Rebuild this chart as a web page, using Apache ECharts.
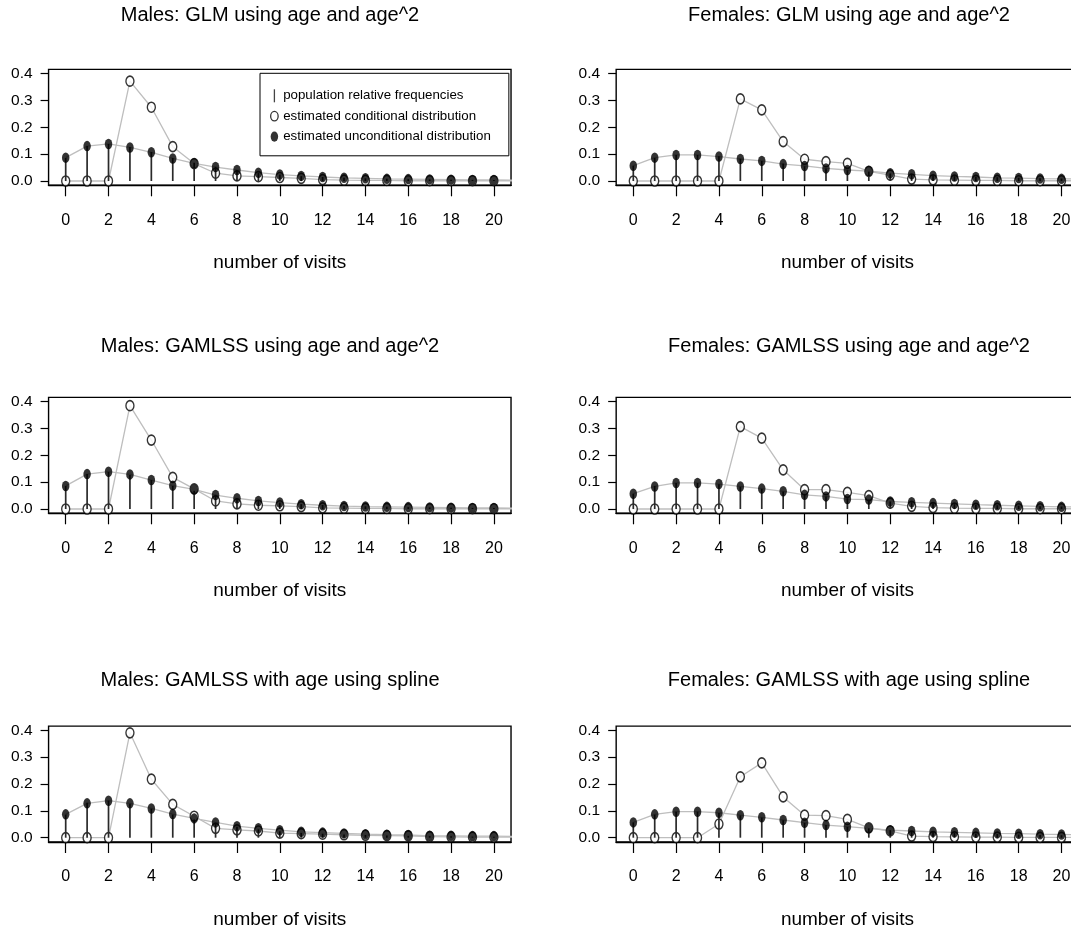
<!DOCTYPE html>
<html>
<head>
<meta charset="utf-8">
<script src="https://cdn.jsdelivr.net/npm/echarts@6/dist/echarts.min.js"></script>
<style>
html,body{margin:0;padding:0;background:#fff;overflow:hidden}
#chart{width:1071px;height:938px}
</style>
</head>
<body>
<div id="chart"></div>
<script>
// ---------- data ----------
const visits = [0,1,2,3,4,5,6,7,8,9,10,11,12,13,14,15,16,17,18,19,20,21];
const xTickValues = [0,2,4,6,8,10,12,14,16,18,20];
const yTickValues = [0,0.1,0.2,0.3,0.4];
const panelTitles = [
  'Males: GLM using age and age^2',
  'Females: GLM using age and age^2',
  'Males: GAMLSS using age and age^2',
  'Females: GAMLSS using age and age^2',
  'Males: GAMLSS with age using spline',
  'Females: GAMLSS with age using spline'
];
const xAxisTitle = 'number of visits';
const legendNames = [
  'population relative frequencies',
  'estimated conditional distribution',
  'estimated unconditional distribution'
];

// population frequencies: visits 0..20
const malePop   = [0.086,0.130,0.138,0.127,0.108,0.086,0.068,0.053,0.041,0.031,0.024,0.018,0.015,0.012,0.010,0.008,0.007,0.006,0.005,0.004,0.004];
const femalePop = [0.057,0.086,0.097,0.097,0.092,0.083,0.075,0.065,0.055,0.047,0.040,0.035,0.028,0.025,0.021,0.018,0.016,0.014,0.012,0.010,0.009];

// estimated distributions: visits 0..21 (21 lies just past the plot edge)
const maleGlmCond     = [0,0,0,0.372,0.275,0.128,0.065,0.029,0.019,0.016,0.013,0.010,0.005,0.003,0.002,0.002,0.001,0.001,0.001,0.001,0.001,0.001];
const maleGlmUncond   = [0.087,0.130,0.138,0.125,0.107,0.084,0.066,0.052,0.041,0.031,0.024,0.019,0.015,0.012,0.010,0.008,0.007,0.006,0.005,0.004,0.004,0.003];
const femaleGlmCond   = [0,0,0,0,0,0.306,0.265,0.147,0.081,0.072,0.066,0.036,0.022,0.007,0.004,0.003,0.002,0.002,0.001,0.001,0.001,0.001];
const femaleGlmUncond = [0.057,0.087,0.097,0.097,0.091,0.082,0.075,0.063,0.056,0.047,0.041,0.037,0.029,0.025,0.020,0.017,0.015,0.012,0.011,0.009,0.008,0.007];

const maleGamCond     = [0,0,0,0.385,0.257,0.118,0.075,0.030,0.019,0.014,0.012,0.009,0.004,0.003,0.002,0.002,0.001,0.001,0.001,0.001,0.001,0.001];
const maleGamUncond   = [0.086,0.130,0.139,0.129,0.108,0.087,0.073,0.052,0.040,0.030,0.024,0.018,0.014,0.011,0.009,0.008,0.007,0.006,0.005,0.004,0.004,0.003];
const femaleGamCond   = [0,0,0,0,0,0.307,0.264,0.146,0.072,0.072,0.062,0.050,0.022,0.010,0.005,0.003,0.002,0.002,0.001,0.001,0.001,0.001];
const femaleGamUncond = [0.057,0.084,0.097,0.097,0.093,0.084,0.076,0.066,0.053,0.047,0.037,0.035,0.028,0.025,0.022,0.019,0.016,0.014,0.012,0.010,0.008,0.007];

const maleSplCond     = [0,0,0,0.391,0.218,0.124,0.080,0.035,0.029,0.025,0.017,0.015,0.013,0.011,0.009,0.008,0.007,0.004,0.003,0.002,0.002,0.002];
const maleSplUncond   = [0.087,0.128,0.138,0.128,0.109,0.088,0.072,0.057,0.043,0.035,0.028,0.022,0.019,0.016,0.013,0.011,0.010,0.007,0.007,0.006,0.006,0.005];
const femaleSplCond   = [0,0,0,0,0.051,0.227,0.279,0.152,0.084,0.082,0.068,0.037,0.025,0.006,0.004,0.003,0.002,0.002,0.001,0.001,0.001,0.001];
const femaleSplUncond = [0.057,0.087,0.097,0.097,0.093,0.084,0.076,0.066,0.056,0.047,0.041,0.035,0.028,0.025,0.022,0.020,0.018,0.016,0.015,0.013,0.012,0.011];

const panelData = [
  {pop: malePop,   cond: maleGlmCond,   uncond: maleGlmUncond},
  {pop: femalePop, cond: femaleGlmCond, uncond: femaleGlmUncond},
  {pop: malePop,   cond: maleGamCond,   uncond: maleGamUncond},
  {pop: femalePop, cond: femaleGamCond, uncond: femaleGamUncond},
  {pop: malePop,   cond: maleSplCond,   uncond: maleSplUncond},
  {pop: femalePop, cond: femaleSplCond, uncond: femaleSplUncond}
];

// ---------- layout ----------
const FONT = '"Liberation Sans", Arial, Helvetica, sans-serif';
const X_MIN = -0.8, X_MAX = 20.8, Y_MIN = -0.016, Y_MAX = 0.416;
const pxPerX = 21.41, pxPerY = 268.3;
const colZeroX = [65.7, 633.3];
const rowZeroY = [181, 509, 837.7];
const titleCenterX = [270, 849];
const titleMidY = [15.6, 346, 680.6];
const ellipse = 'path://M0,5A5,5,0,1,1,10,5A5,5,0,1,1,0,5Z';

const pts = arr => arr.map((y, k) => [visits[k], y]);
const inPlot = arr => pts(arr).filter(d => d[0] <= X_MAX);

const grids = [], xAxes = [], yAxes = [], series = [], graphics = [];
panelData.forEach((p, i) => {
  const r = Math.floor(i / 2), c = i % 2;
  grids.push({
    left: colZeroX[c] + X_MIN * pxPerX,
    top: rowZeroY[r] - Y_MAX * pxPerY,
    width: (X_MAX - X_MIN) * pxPerX,
    height: (Y_MAX - Y_MIN) * pxPerY,
    show: true, borderColor: '#000', borderWidth: 1.4,
    backgroundColor: 'transparent', containLabel: false, outerBoundsMode: 'none'
  });
  xAxes.push({
    gridIndex: i, type: 'value', min: X_MIN, max: X_MAX,
    axisLine: {show: true, onZero: false, lineStyle: {color: '#000', width: 1.4}},
    axisTick: {show: true, length: 11, customValues: xTickValues, lineStyle: {color: '#000', width: 1.2}},
    axisLabel: {customValues: xTickValues, margin: 27, fontSize: 16, color: '#000', fontFamily: FONT},
    splitLine: {show: false},
    name: xAxisTitle, nameLocation: 'middle', nameGap: 68,
    nameTextStyle: {fontSize: 19, color: '#000', fontFamily: FONT}
  });
  yAxes.push({
    gridIndex: i, type: 'value', min: Y_MIN, max: Y_MAX,
    axisLine: {show: false, onZero: false},
    axisTick: {show: true, length: 8, customValues: yTickValues, lineStyle: {color: '#000', width: 1.2}},
    axisLabel: {customValues: yTickValues, margin: 16, fontSize: 15.5, color: '#000', fontFamily: FONT,
                formatter: v => Number(v).toFixed(1)},
    splitLine: {show: false}
  });
  series.push({
    type: 'line', name: 'conditional curve', xAxisIndex: i, yAxisIndex: i,
    data: pts(p.cond), symbol: 'none', silent: true, z: 2, clip: true,
    lineStyle: {color: '#bebebe', width: 1.3}
  });
  series.push({
    type: 'line', name: 'unconditional curve', xAxisIndex: i, yAxisIndex: i,
    data: pts(p.uncond), symbol: 'none', silent: true, z: 2, clip: true,
    lineStyle: {color: '#bebebe', width: 1.3}
  });
  series.push({
    type: 'scatter', name: legendNames[1], xAxisIndex: i, yAxisIndex: i,
    data: inPlot(p.cond), symbol: ellipse, symbolSize: [8, 10], z: 3,
    itemStyle: {color: '#fff', borderColor: '#000', borderWidth: 1.5}
  });
  series.push({
    type: 'bar', name: legendNames[0], xAxisIndex: i, yAxisIndex: i,
    data: inPlot(p.pop), barWidth: 1.7, z: 4,
    itemStyle: {color: '#2a2a2a'}
  });
  series.push({
    type: 'scatter', name: legendNames[2], xAxisIndex: i, yAxisIndex: i,
    data: inPlot(p.uncond), symbol: ellipse, symbolSize: [7.5, 10.5], z: 5,
    itemStyle: {color: '#000'}
  });
  graphics.push({
    type: 'text', x: titleCenterX[c], y: titleMidY[r],
    style: {text: panelTitles[i], fill: '#000', font: '20px ' + FONT,
            textAlign: 'center', textVerticalAlign: 'middle'}
  });
});

const chart = echarts.init(document.getElementById('chart'), null, {renderer: 'canvas'});
chart.setOption({
  animation: false,
  backgroundColor: '#fff',
  grid: grids,
  xAxis: xAxes,
  yAxis: yAxes,
  series: series,
  graphic: graphics,
  legend: {
    orient: 'vertical', left: 260, top: 73.3,
    padding: [16, 18, 12.7, 10], itemGap: 7.4,
    itemWidth: 7.5, itemHeight: 13,
    borderColor: '#000', borderWidth: 1, borderRadius: 0,
    selectedMode: false,
    textStyle: {fontSize: 13.3, color: '#000', fontFamily: FONT},
    data: [
      {name: legendNames[0], icon: 'path://M0,0H1V10H0Z', itemStyle: {color: '#444'}},
      {name: legendNames[1], icon: 'path://M0,4.75A3.75,4.75,0,1,1,7.5,4.75A3.75,4.75,0,1,1,0,4.75Z',
       itemStyle: {color: '#fff', borderColor: '#000', borderWidth: 1.3}},
      {name: legendNames[2], icon: 'path://M0,4.75A3.5,4.75,0,1,1,7,4.75A3.5,4.75,0,1,1,0,4.75Z',
       itemStyle: {color: '#000'}}
    ]
  }
});
</script>
</body>
</html>
